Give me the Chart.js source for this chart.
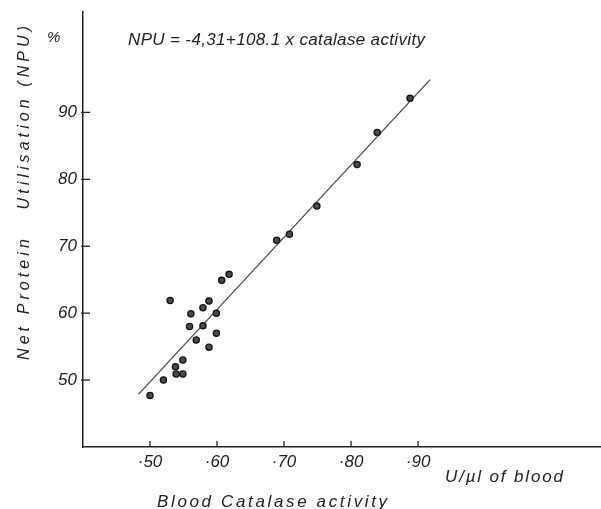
<!DOCTYPE html>
<html>
<head>
<meta charset="utf-8">
<script src="https://cdn.jsdelivr.net/npm/chart.js@4"></script>
<style>
  html, body { margin: 0; padding: 0; background: #fff; overflow: hidden; }
  #wrap { width: 601px; height: 509px; position: relative; }
</style>
</head>
<body>
<div id="wrap"><canvas id="npuChart"></canvas></div>
<script>
// values
const catalase = [0.500, 0.520, 0.538, 0.539, 0.549, 0.549, 0.530, 0.559, 0.561, 0.569, 0.579, 0.579,
                  0.588, 0.588, 0.599, 0.599, 0.607, 0.618, 0.689, 0.708, 0.749, 0.809, 0.839, 0.888];
const npu = [47.7, 50.0, 52.0, 50.9, 50.9, 53.0, 61.9, 58.0, 59.9, 56.0, 58.1, 60.8,
             54.9, 61.8, 57.0, 60.0, 64.9, 65.8, 70.9, 71.8, 76.0, 82.2, 87.0, 92.1];
const fitX = [0.483, 0.918];
const fitY = [47.9, 94.9];
const xTicks = [0.5, 0.6, 0.7, 0.8, 0.9];
const yTicks = [50, 60, 70, 80, 90];

const INK = '#222';
const FAMILY = '"Liberation Sans", Arial, sans-serif';
const FONT = 'italic 17px ' + FAMILY;

function spacedText(ctx, text, x, y, width, rotate) {
  ctx.save();
  ctx.letterSpacing = '0px';
  const w = ctx.measureText(text).width;
  const sp = (width - w) / (text.length - 1);
  ctx.letterSpacing = sp.toFixed(2) + 'px';
  ctx.translate(x, y);
  if (rotate) ctx.rotate(-Math.PI / 2);
  ctx.textAlign = 'left';
  ctx.fillText(text, 0, 0);
  ctx.restore();
}

const annotate = {
  id: 'annotate',
  afterDraw(chart) {
    const { ctx, scales: { x, y } } = chart;
    ctx.save();
    ctx.strokeStyle = INK;
    ctx.lineWidth = 1.3;
    // tick marks pointing inward
    xTicks.forEach(v => {
      const px = x.getPixelForValue(v);
      ctx.beginPath(); ctx.moveTo(px, y.bottom); ctx.lineTo(px, y.bottom - 6); ctx.stroke();
    });
    yTicks.forEach(v => {
      const py = y.getPixelForValue(v);
      ctx.beginPath(); ctx.moveTo(x.left - 2, py); ctx.lineTo(x.left + 7, py); ctx.stroke();
    });

    ctx.fillStyle = INK;
    ctx.textBaseline = 'alphabetic';
    ctx.font = FONT;
    spacedText(ctx, 'NPU = -4,31+108.1 x catalase activity', 128, 45, 297);
    ctx.font = 'italic 15px ' + FAMILY;
    ctx.fillText('%', 47, 42);
    ctx.font = 'italic 16px ' + FAMILY;
    spacedText(ctx, 'Net Protein   Utilisation (NPU)', 29, 360, 334, true);
    ctx.font = FONT;
    spacedText(ctx, 'U/µl of blood', 445, 482, 118);
    spacedText(ctx, 'Blood Catalase activity', 157, 507, 230);
    ctx.restore();
  }
};

new Chart(document.getElementById('npuChart'), {
  type: 'scatter',
  data: {
    datasets: [
      {
        label: 'NPU',
        data: catalase.map((c, i) => ({ x: c, y: npu[i] })),
        pointRadius: 3.1,
        pointBackgroundColor: '#4a4a4a',
        pointBorderColor: '#151515',
        pointBorderWidth: 1.3,
      },
      {
        label: 'fit',
        data: fitX.map((c, i) => ({ x: c, y: fitY[i] })),
        showLine: true,
        borderColor: '#4d4d4d',
        borderWidth: 1.3,
        pointRadius: 0,
      },
    ],
  },
  options: {
    responsive: true,
    maintainAspectRatio: false,
    animation: false,
    layout: { autoPadding: false, padding: { top: 12, right: 0, left: 0, bottom: 0 } },
    plugins: { legend: { display: false }, tooltip: { enabled: false } },
    scales: {
      x: {
        type: 'linear', min: 0.4, max: 1.173,
        afterBuildTicks: s => { s.ticks = xTicks.map(v => ({ value: v })); },
        afterFit: s => { s.height = 62; s.paddingLeft = 0; s.paddingRight = 0; },
        grid: { display: false, drawTicks: false },
        border: { color: INK, width: 1.5 },
        ticks: {
          color: INK, padding: 5, maxRotation: 0, autoSkip: false,
          font: { family: FAMILY, size: 17, style: 'italic' },
          callback: v => '·' + Math.round(v * 100),
        },
      },
      y: {
        type: 'linear', min: 40, max: 105,
        afterBuildTicks: s => { s.ticks = yTicks.map(v => ({ value: v })); },
        afterFit: s => { s.width = 83; s.paddingTop = 0; s.paddingBottom = 0; },
        grid: { display: false, drawTicks: false },
        border: { color: INK, width: 1.5 },
        ticks: {
          color: INK, padding: 6, autoSkip: false,
          font: { family: FAMILY, size: 17, style: 'italic' },
        },
      },
    },
  },
  plugins: [annotate],
});
</script>
</body>
</html>
